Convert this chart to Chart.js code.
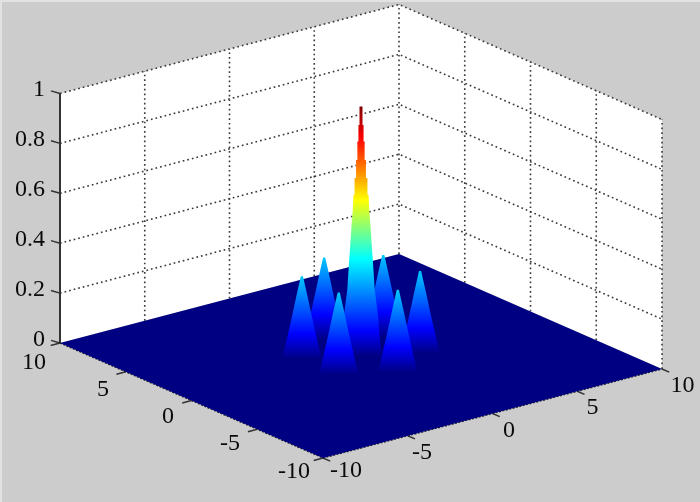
<!DOCTYPE html>
<html>
<head>
<meta charset="utf-8">
<style>
  html, body { margin: 0; padding: 0; background: #cccccc; overflow: hidden; }
  #wrap { position: relative; width: 700px; height: 502px; box-sizing: border-box; background: #cccccc;
          border-top: 2px solid #e2e2e2; border-left: 2px solid #e2e2e2; overflow: hidden; }
  #chart { position: absolute; left: -2px; top: -2px; filter: blur(0.45px); }
</style>
</head>
<body>
<div id="wrap"><canvas id="chart" width="700" height="502"></canvas></div>
<script src="https://cdn.jsdelivr.net/npm/chart.js@4"></script>
<script>
// tick values and labels
const xTicks = [-10, -5, 0, 5, 10];
const yTicks = [-10, -5, 0, 5, 10];
const zTicks = [0, 0.2, 0.4, 0.6, 0.8, 1];
const xTickLabels = ['-10', '-5', '0', '5', '10'];
const yTickLabels = ['-10', '-5', '0', '5', '10'];
const zTickLabels = ['0', '0.2', '0.4', '0.6', '0.8', '1'];

// peaks, listed back to front
const peakX = [0, 2.4, 2.4, 0, -2.4, 0, -2.4];
const peakY = [2.8, 1.4, -1.4, 0, 1.4, -2.8, -1.4];
const peakKind = ['side', 'side', 'side', 'main', 'side', 'side', 'side'];

// radial profiles, the top of the main peak is stepped
const mainZ = [0, 0.066, 0.158, 0.266, 0.373, 0.445, 0.512, 0.578, 0.646, 0.646, 0.713, 0.713, 0.786, 0.786, 0.86, 0.86, 0.926, 0.926, 1];
const mainR = [0.95, 0.88, 0.8, 0.64, 0.56, 0.5, 0.45, 0.39, 0.35, 0.3, 0.3, 0.23, 0.23, 0.17, 0.17, 0.12, 0.12, 0.07, 0.07];
const sideZ = [0, 0.02, 0.09, 0.17, 0.25, 0.33];
const sideR = [0.92, 0.86, 0.67, 0.46, 0.26, 0.05];

// jet colormap, the blue end moved down a little to match the picture
const jetStops = [0, 0.1, 0.39, 0.625, 0.875, 1];
const jetColors = ['rgb(0,0,130)', 'rgb(0,0,255)', 'rgb(0,255,255)', 'rgb(255,255,0)', 'rgb(255,0,0)', 'rgb(128,0,0)'];

// screen projection of the box, from the four floor corners
const frontX = 323, frontY = 458;
const xAxisDX = 339, xAxisDY = -89;
const yAxisDX = -263, yAxisDY = -115;
const zHeight = 249.5;

function project(x, y, z)
{
  const u = (x + 10) / 20;
  const v = (y + 10) / 20;
  return {
    x: frontX + u * xAxisDX + v * yAxisDX,
    y: frontY + u * xAxisDY + v * yAxisDY - z * zHeight,
  };
}

const datasets = [];
let layer = 1000;

function addShape(label, points, style)
{
  datasets.push(Object.assign({
    label: label,
    data: points,
    showLine: true,
    pointRadius: 0,
    tension: 0,
    borderWidth: 0,
    order: layer--,
  }, style));
}

function addFill(label, points, color)
{
  addShape(label, points, { fill: 'shape', backgroundColor: color, borderColor: color });
}

function addLine(label, points, color, width, dash)
{
  addShape(label, points, { fill: false, borderColor: color, borderWidth: width, borderDash: dash || [] });
}

function jetGradient(context, cx, cy)
{
  const chart = context.chart;
  if(!chart.chartArea)
  {
    return jetColors[0];
  }
  const bottom = project(cx, cy, 0);
  const top = project(cx, cy, 1);
  const scale = chart.scales.y;
  const gradient = chart.ctx.createLinearGradient(0, scale.getPixelForValue(bottom.y), 0, scale.getPixelForValue(top.y));
  jetStops.forEach((stop, i) => gradient.addColorStop(stop, jetColors[i]));
  return gradient;
}

// silhouette of one peak: left side up, right side down, then round the front of its foot
function peakOutline(cx, cy, radii, heights)
{
  const sx = 0.79, sy = -0.613;
  const fx = -0.612, fy = -0.79;
  const points = [];
  for(let i = 0; i < radii.length; i++)
  {
    points.push(project(cx - radii[i] * sx, cy - radii[i] * sy, heights[i]));
  }
  for(let i = radii.length - 1; i >= 0; i--)
  {
    points.push(project(cx + radii[i] * sx, cy + radii[i] * sy, heights[i]));
  }
  const foot = radii[0];
  for(let t = 1; t < 12; t++)
  {
    const a = t / 12 * Math.PI;
    points.push(project(
      cx + foot * (Math.cos(a) * sx + Math.sin(a) * fx),
      cy + foot * (Math.cos(a) * sy + Math.sin(a) * fy),
      heights[0]));
  }
  return points;
}

// walls
addFill('left wall', [project(-10, 10, 0), project(10, 10, 0), project(10, 10, 1), project(-10, 10, 1)], '#ffffff');
addFill('right wall', [project(10, 10, 0), project(10, -10, 0), project(10, -10, 1), project(10, 10, 1)], '#ffffff');

// dotted grid on the walls
const gridColor = '#3a3a3a';
const gridDash = [1.7, 3];
xTicks.slice(1).forEach(t => addLine('grid x', [project(t, 10, 0), project(t, 10, 1)], gridColor, 1.6, gridDash));
yTicks.slice(0, 4).forEach(t => addLine('grid y', [project(10, t, 0), project(10, t, 1)], gridColor, 1.6, gridDash));
zTicks.slice(1).forEach(t =>
{
  addLine('grid z', [project(-10, 10, t), project(10, 10, t), project(10, -10, t)], gridColor, 1.6, gridDash);
});

// axis lines and ticks
const axisColor = '#333333';
addLine('z axis', [project(-10, 10, 0), project(-10, 10, 1)], axisColor, 2);
zTicks.forEach(t =>
{
  const p = project(-10, 10, t);
  addLine('z tick', [p, { x: p.x - 9, y: p.y - 2.6 }], axisColor, 1.5);
});
yTicks.forEach(t => addLine('y tick', [project(-10, t, 0), project(-10.55, t, 0)], axisColor, 1.5));
xTicks.forEach(t => addLine('x tick', [project(t, -10, 0), project(t, -10.55, 0)], axisColor, 1.5));
addLine('y edge', [project(-10, 10, 0), project(-10, -10, 0)], '#222222', 1.4, [2, 1.5]);
addLine('x edge', [project(-10, -10, 0), project(10, -10, 0)], '#222222', 1.4, [2, 1.5]);

// floor of the surface
addFill('floor', [project(-10, -10, 0), project(10, -10, 0), project(10, 10, 0), project(-10, 10, 0)], jetColors[0]);

// peaks
peakX.forEach((cx, i) =>
{
  const cy = peakY[i];
  const main = peakKind[i] === 'main';
  const outline = peakOutline(cx, cy, main ? mainR : sideR, main ? mainZ : sideZ);
  addShape('peak ' + (i + 1), outline, {
    fill: 'shape',
    backgroundColor: ctx => jetGradient(ctx, cx, cy),
    borderColor: 'rgba(0,0,0,0)',
  });
});

// tick labels are written next to their ticks, nudged as in the original figure
const zLabelRight = 45;
const yLabelCenterX = [294, 230, 168, 103, 34];
const yLabelBase = [477.5, 450, 422.5, 396, 369];
const xLabelCenterX = [346, 422, 509, 592.5, 682.5];
const xLabelBase = [477, 459, 436.5, 414, 391.5];

const tickText = {
  id: 'tickText',
  afterDatasetsDraw(chart)
  {
    const ctx = chart.ctx;
    ctx.save();
    ctx.fillStyle = '#0a0a0a';
    ctx.font = '24px "Liberation Serif"';
    ctx.textBaseline = 'alphabetic';

    ctx.textAlign = 'right';
    zTickLabels.forEach((text, i) =>
    {
      ctx.fillText(text, zLabelRight, project(-10, 10, zTicks[i]).y + 2.5);
    });

    ctx.textAlign = 'center';
    yTickLabels.forEach((text, i) => ctx.fillText(text, yLabelCenterX[i], yLabelBase[i]));
    xTickLabels.forEach((text, i) => ctx.fillText(text, xLabelCenterX[i], xLabelBase[i]));
    ctx.restore();
  }
};

new Chart(document.getElementById('chart'), {
  type: 'scatter',
  data: { datasets: datasets },
  options: {
    responsive: false,
    animation: false,
    layout: { padding: 0 },
    plugins: {
      legend: { display: false },
      tooltip: { enabled: false },
    },
    scales: {
      x: { type: 'linear', display: false, min: 0, max: 700 },
      y: { type: 'linear', display: false, min: 0, max: 502, reverse: true },
    },
  },
  plugins: [tickText],
});
</script>
</body>
</html>
